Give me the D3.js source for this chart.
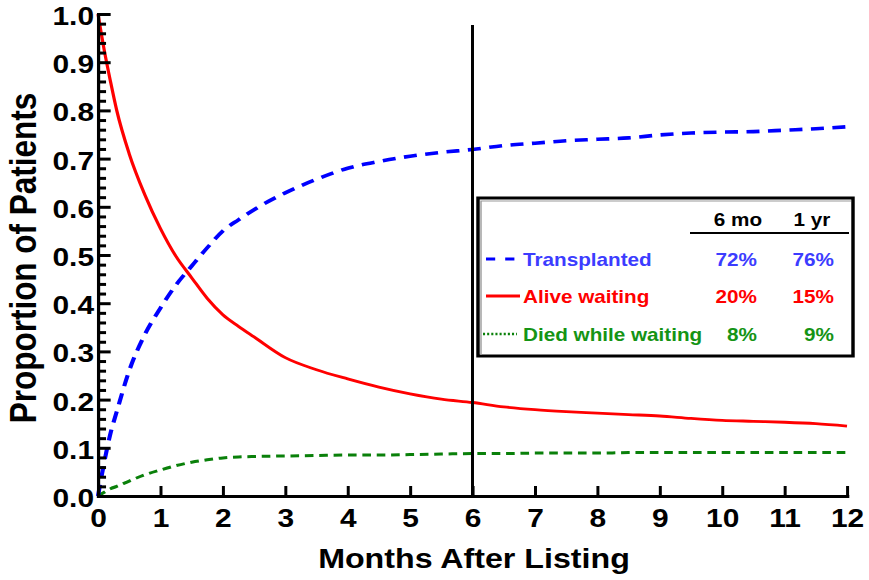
<!DOCTYPE html>
<html>
<head>
<meta charset="utf-8">
<script src="https://cdn.jsdelivr.net/npm/d3@7"></script>
<style>
  html, body { margin: 0; padding: 0; background: #fff; }
  svg { display: block; }
  text { font-family: "Liberation Sans", Arial, Helvetica, sans-serif; font-weight: bold; }
</style>
</head>
<body>
<div id="chart"></div>
<script>
// ---------------- data ----------------
const months = [0, 0.1, 0.2, 0.3, 0.5, 0.75, 1, 1.25, 1.5, 1.75, 2, 2.25, 2.5, 3, 3.5, 4, 4.5, 5, 5.5, 6, 6.5, 7, 7.5, 8, 8.5, 9, 9.5, 10, 10.5, 11, 11.5, 12];
const transplanted = [0, 0.07, 0.13, 0.175, 0.26, 0.335, 0.39, 0.438, 0.477, 0.515, 0.55, 0.573, 0.594, 0.629, 0.657, 0.68, 0.694, 0.705, 0.713, 0.719, 0.727, 0.732, 0.737, 0.740, 0.743, 0.749, 0.753, 0.755, 0.756, 0.759, 0.762, 0.766];
const aliveWaiting = [1.0, 0.925, 0.86, 0.80, 0.71, 0.625, 0.555, 0.497, 0.453, 0.41, 0.376, 0.352, 0.33, 0.287, 0.262, 0.243, 0.226, 0.212, 0.201, 0.194, 0.185, 0.179, 0.175, 0.172, 0.169, 0.166, 0.161, 0.157, 0.155, 0.153, 0.150, 0.145];
const diedWaiting = [0, 0.008, 0.015, 0.02, 0.031, 0.044, 0.054, 0.063, 0.07, 0.075, 0.079, 0.081, 0.082, 0.083, 0.084, 0.085, 0.085, 0.086, 0.087, 0.088, 0.088, 0.089, 0.089, 0.089, 0.09, 0.09, 0.09, 0.09, 0.09, 0.09, 0.09, 0.09];

const seriesNames = ["Transplanted", "Alive waiting", "Died while waiting"];
const sixMonth = ["72%", "20%", "8%"];
const oneYear = ["76%", "15%", "9%"];
const colHeaders = ["6 mo", "1 yr"];
const xTicks = [0, 1, 2, 3, 4, 5, 6, 7, 8, 9, 10, 11, 12];
const yTicks = [0, 0.1, 0.2, 0.3, 0.4, 0.5, 0.6, 0.7, 0.8, 0.9, 1.0];
const yMinorTicks = d3.range(0, 51).map(i => i / 50).filter((v, i) => i % 5 !== 0);
const markerMonth = 6;
const xTitle = "Months After Listing";
const yTitle = "Proportion of Patients";

// ---------------- layout ----------------
const S = 1.15;            // horizontal stretch of the reference
const W = 869 / S, H = 580;
const px = v => v / S;     // pixel x -> user x

const svg = d3.select("#chart").append("svg")
  .attr("width", 869).attr("height", 580)
  .attr("viewBox", `0 0 ${W} ${H}`)
  .attr("preserveAspectRatio", "none");

const x = d3.scaleLinear().domain([0, 12]).range([px(98), px(847)]);
const y = d3.scaleLinear().domain([0, 1]).range([496, 14]);

const colors = { blue: "#0000ff", red: "#ff0000", green: "#0a800a" };
const textColors = { blue: "#3c3cff", red: "#ff0000", green: "#159415" };

const line = d3.line().x(d => x(d.m)).y(d => y(d.v)).curve(d3.curveMonotoneX);
const mk = arr => months.map((m, i) => ({ m, v: arr[i] }));

// curves
svg.append("path").datum(mk(diedWaiting))
  .attr("d", line).attr("fill", "none")
  .attr("stroke", colors.green).attr("stroke-width", 3)
  .attr("stroke-dasharray", "7.5,5");
svg.append("path").datum(mk(transplanted))
  .attr("d", line).attr("fill", "none")
  .attr("stroke", colors.blue).attr("stroke-width", 3.6)
  .attr("stroke-dasharray", "11.3,7.4");
svg.append("path").datum(mk(aliveWaiting))
  .attr("d", line).attr("fill", "none")
  .attr("stroke", colors.red).attr("stroke-width", 2.8);

// 6-month marker line
svg.append("line")
  .attr("x1", x(markerMonth)).attr("x2", x(markerMonth))
  .attr("y1", 25).attr("y2", y(0))
  .attr("stroke", "#000").attr("stroke-width", 2.6);

// ---------------- axes ----------------
const xAxis = svg.append("g").attr("transform", `translate(0,${y(0)})`)
  .call(d3.axisBottom(x).tickValues(xTicks).tickFormat(d3.format("d"))
    .tickSizeInner(-10).tickSizeOuter(0).tickPadding(13));
xAxis.select(".domain").attr("stroke-width", 3).attr("stroke-linecap", "square");
xAxis.selectAll(".tick line").attr("stroke-width", 2.6);
xAxis.selectAll(".tick text").attr("font-size", 26).attr("fill", "#000")
  .attr("font-family", "'Liberation Sans', Arial, sans-serif").attr("font-weight", "bold");

const yMinor = svg.append("g").attr("transform", `translate(${x(0)},0)`)
  .call(d3.axisLeft(y).tickValues(yMinorTicks).tickFormat("").tickSizeInner(-7).tickSizeOuter(0));
yMinor.select(".domain").remove();
yMinor.selectAll(".tick line").attr("stroke-width", 3);

const yAxis = svg.append("g").attr("transform", `translate(${x(0)},0)`)
  .call(d3.axisLeft(y).tickValues(yTicks).tickFormat(d3.format(".1f"))
    .tickSizeInner(-11).tickSizeOuter(0).tickPadding(px(4)));
yAxis.select(".domain").attr("stroke-width", 2.8).attr("stroke-linecap", "square");
yAxis.selectAll(".tick line").attr("stroke-width", 3);
yAxis.selectAll(".tick text").attr("font-size", 26).attr("fill", "#000").attr("dy", "0.4em")
  .attr("font-family", "'Liberation Sans', Arial, sans-serif").attr("font-weight", "bold");

// axis titles
svg.append("text").attr("x", px(474)).attr("y", 568)
  .attr("text-anchor", "middle").attr("font-size", 28).attr("fill", "#000")
  .text(xTitle);
svg.append("text")
  .attr("transform", `translate(${px(36)},258) rotate(-90)`)
  .attr("text-anchor", "middle").attr("font-size", 31.5).attr("fill", "#000")
  .text(yTitle);

// ---------------- legend ----------------
const lg = svg.append("g");
lg.append("rect")
  .attr("x", px(478)).attr("y", 198)
  .attr("width", px(853) - px(478)).attr("height", 158)
  .attr("fill", "#fff").attr("stroke", "#000").attr("stroke-width", 3);
lg.append("path")
  .attr("d", `M${px(481)},355 V201 H${px(851)}`)
  .attr("fill", "none").attr("stroke", "#999").attr("stroke-width", 1.2);

const colX = [px(738), px(812)];
colHeaders.forEach((h, i) => {
  lg.append("text").attr("x", colX[i]).attr("y", 226)
    .attr("text-anchor", "middle").attr("font-size", 18).attr("fill", "#000").text(h);
});
lg.append("line").attr("x1", px(690)).attr("x2", px(849)).attr("y1", 233).attr("y2", 233)
  .attr("stroke", "#000").attr("stroke-width", 2);

const rowY = [266, 303, 341];
const keys = ["blue", "red", "green"];
const symDash = ["8,8.7", null, "1.8,1.8"];
const symX = [[486, 515], [486, 520], [483, 517]];
seriesNames.forEach((name, i) => {
  const k = keys[i];
  const sl = lg.append("line")
    .attr("x1", px(symX[i][0])).attr("x2", px(symX[i][1]))
    .attr("y1", rowY[i] - 7).attr("y2", rowY[i] - 7)
    .attr("stroke", colors[k]).attr("stroke-width", i === 2 ? 2.5 : 3);
  if (symDash[i]) sl.attr("stroke-dasharray", symDash[i]);
  lg.append("text").attr("x", px(523)).attr("y", rowY[i])
    .attr("font-size", 18).attr("fill", textColors[k]).text(name);
  lg.append("text").attr("x", px(757)).attr("y", rowY[i]).attr("text-anchor", "end")
    .attr("font-size", 18).attr("fill", textColors[k]).text(sixMonth[i]);
  lg.append("text").attr("x", px(834)).attr("y", rowY[i]).attr("text-anchor", "end")
    .attr("font-size", 18).attr("fill", textColors[k]).text(oneYear[i]);
});
</script>
</body>
</html>
